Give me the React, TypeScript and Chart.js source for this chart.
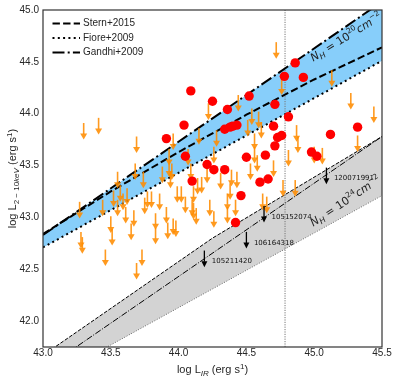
import React, { useEffect, useRef } from 'react';
import { Chart, registerables } from 'chart.js';

Chart.register(...registerables);

// ---------- axes ----------
const X_TICKS = [43.0, 43.5, 44.0, 44.5, 45.0, 45.5];
const Y_TICKS = [42.0, 42.5, 43.0, 43.5, 44.0, 44.5, 45.0];
const X_MIN = 43.0;
const X_MAX = 45.5;
const Y_MIN = 41.75;
const Y_MAX = 45.0;

// ---------- relations (log L_IR -> log L_2-10keV) ----------
const STERN_X = [43.0, 43.5, 44.0, 44.5, 45.0, 45.5];
const STERN_Y = [42.84, 43.25, 43.63, 43.99, 44.33, 44.64];
const FIORE_X = [43.0, 45.5];
const FIORE_Y = [42.71, 44.51];
const GANDHI_X = [43.0, 45.5];
const GANDHI_Y = [42.83, 45.08];

// NH = 1e24 absorbed band
const ABS_UPPER_X = [43.0, 44.25, 45.5];
const ABS_UPPER_Y = [41.67, 42.8, 43.78];
const ABS_MID_X = [43.0, 45.5];
const ABS_MID_Y = [41.53, 43.78];
const ABS_LOWER_X = [43.0, 45.5];
const ABS_LOWER_Y = [41.41, 43.21];

const VLINE_X = 44.785;

// ---------- detections (red) ----------
const DET_X = [44.09, 44.04, 43.91, 44.05, 44.10, 44.86, 44.78, 44.92, 44.25, 44.52, 44.36, 44.71, 44.81, 44.34, 44.38, 44.40, 44.43, 44.70, 44.76, 44.73, 44.71, 45.12, 45.32, 44.21, 44.26, 44.34, 44.50, 44.64, 44.98, 45.02, 44.60, 44.66, 44.46, 44.42];
const DET_Y = [44.22, 43.89, 43.76, 43.59, 43.35, 44.49, 44.36, 44.35, 44.12, 44.17, 44.04, 44.09, 43.97, 43.85, 43.87, 43.88, 43.89, 43.88, 43.79, 43.77, 43.69, 43.80, 43.87, 43.51, 43.46, 43.46, 43.58, 43.60, 43.63, 43.59, 43.34, 43.37, 43.21, 42.95];

// ---------- upper limits (orange) ----------
const UL_X = [
  43.30, 43.41, 43.69, 43.96, 44.15, 43.93, 44.07, 43.55, 43.68, 43.74,
  43.57, 43.62, 43.52, 43.59, 43.88, 43.93, 43.95, 43.94, 44.09, 43.99,
  44.14, 44.17, 44.21, 43.77, 43.80, 43.86, 44.02, 44.11, 43.27, 43.44,
  43.28, 43.29, 43.46, 43.51, 43.55, 43.61, 43.65, 43.67, 43.69, 43.73,
  43.75, 43.83, 43.83, 43.91, 43.92, 43.96, 43.98, 44.05, 44.11, 44.13,
  44.10, 44.23, 44.26, 44.36, 43.50,
  44.72, 45.13, 45.27, 45.44, 44.76, 44.44, 44.22, 44.54, 44.59, 44.28,
  44.51, 44.61, 44.56, 44.87, 44.88, 45.32, 45.00, 44.81, 44.26, 44.56,
  44.58, 44.70, 44.86, 44.31, 44.39, 44.43, 45.06, 44.38, 44.53, 44.62,
  44.65, 44.77, 44.36, 44.42,
];
const UL_Y = [
  43.91, 43.96, 43.78, 43.81, 43.86, 43.66, 43.66, 43.44, 43.52, 43.44,
  43.31, 43.28, 43.26, 43.23, 43.49, 43.55, 43.52, 43.44, 43.52, 43.30,
  43.38, 43.39, 43.49, 43.25, 43.25, 43.23, 43.30, 43.30, 43.15, 43.17,
  42.86, 42.81, 42.69, 42.89, 43.17, 43.10, 42.94, 43.07, 42.56, 42.69,
  43.19, 43.04, 42.90, 43.10, 42.95, 42.99, 42.97, 43.20, 43.14, 43.09,
  43.17, 43.17, 43.06, 43.10, 43.01,
  44.69, 44.42, 44.20, 44.07, 44.34, 44.18, 44.10, 44.05, 44.02, 43.84,
  43.94, 43.92, 43.81, 43.89, 43.78, 43.79, 43.68, 43.65, 43.68, 43.68,
  43.60, 43.55, 43.36, 43.43, 43.46, 43.44, 43.67, 43.33, 43.52, 43.23,
  43.20, 43.36, 43.23, 43.17,
];
const ARROW_LEN = 0.16;

// ---------- highlighted upper limits (black) ----------
const BLACK_IDS = ['120071991', '105152074', '106164318', '105211420'];
const BLACK_X = [45.09, 44.63, 44.5, 44.19];
const BLACK_Y = [43.48, 43.11, 42.86, 42.68];

// ---------- legend & annotations ----------
const LEGEND_LABELS = ['Stern+2015', 'Fiore+2009', 'Gandhi+2009'];
const NH_EXPONENTS = ['20', '24'];
const NH_X = [44.993, 44.993];
const NH_Y = [44.501, 42.91];

// ---------- styles ----------
const DASH_STERN = [7.4, 3.2];
const DASH_FIORE = [2, 3.3];
const DASH_GANDHI = [12, 3.2, 2, 3.2];
const BLUE = '#87CEFA';
const GRAY_FILL = '#D3D3D3';
const ORANGE = 'rgba(255,140,0,0.88)';
const TEXT = '#262626';
const SANS = '"Liberation Sans", Arial, sans-serif';
const DEJAVU = '"DejaVu Sans", sans-serif';

const pts = (xs: number[], ys: number[]) => xs.map((x, i) => ({ x, y: ys[i] }));

type Part = { t: string; size: number; dy?: number; italic?: boolean; family?: string };
const fontOf = (p: Part) => `${p.italic ? 'italic ' : ''}${p.size}px ${p.family || SANS}`;
function richWidth(ctx: CanvasRenderingContext2D, parts: Part[]) {
  let w = 0;
  for (const p of parts) {
    ctx.font = fontOf(p);
    w += ctx.measureText(p.t).width;
  }
  return w;
}
function drawRich(ctx: CanvasRenderingContext2D, parts: Part[], x: number, y: number, align: 'left' | 'center') {
  const w = richWidth(ctx, parts);
  let cx = align === 'center' ? x - w / 2 : x;
  ctx.textAlign = 'left';
  ctx.textBaseline = 'alphabetic';
  for (const p of parts) {
    ctx.font = fontOf(p);
    ctx.fillText(p.t, cx, y + (p.dy || 0));
    cx += ctx.measureText(p.t).width;
  }
}

function drawArrow(ctx: CanvasRenderingContext2D, x: number, yTop: number, yTip: number, color: string, lw: number, headW: number, headL: number) {
  ctx.strokeStyle = color;
  ctx.fillStyle = color;
  ctx.lineWidth = lw;
  ctx.setLineDash([]);
  ctx.beginPath();
  ctx.moveTo(x, yTop);
  ctx.lineTo(x, yTip - headL + 0.5);
  ctx.stroke();
  ctx.beginPath();
  ctx.moveTo(x - headW / 2, yTip - headL);
  ctx.lineTo(x + headW / 2, yTip - headL);
  ctx.lineTo(x, yTip);
  ctx.closePath();
  ctx.fill();
}

const overlayPlugin = {
  id: 'overlay',
  beforeDatasetDraw(chart: any, args: any) {
    const ds = chart.data.datasets[args.index];
    if (ds.label !== 'detections') return;
    const { ctx, chartArea, scales } = chart;
    const xs = scales.x;
    const ys = scales.y;
    ctx.save();
    ctx.beginPath();
    ctx.rect(chartArea.left, chartArea.top, chartArea.right - chartArea.left, chartArea.bottom - chartArea.top);
    ctx.clip();
    for (let i = 0; i < UL_X.length; i++) {
      const px = xs.getPixelForValue(UL_X[i]);
      drawArrow(ctx, px, ys.getPixelForValue(UL_Y[i]), ys.getPixelForValue(UL_Y[i] - ARROW_LEN), ORANGE, 1.6, 7, 6);
    }
    for (let i = 0; i < BLACK_X.length; i++) {
      const px = xs.getPixelForValue(BLACK_X[i]);
      const top = ys.getPixelForValue(BLACK_Y[i]);
      drawArrow(ctx, px, top, ys.getPixelForValue(BLACK_Y[i] - ARROW_LEN), '#000', 1.3, 6, 6);
      ctx.fillStyle = '#111';
      ctx.font = `7px ${DEJAVU}`;
      ctx.textAlign = 'left';
      ctx.textBaseline = 'middle';
      ctx.fillText(BLACK_IDS[i], px + 7.5, top + 11);
    }
    ctx.restore();
  },
  afterDraw(chart: any) {
    const { ctx, chartArea, scales } = chart;
    const { left, right, top, bottom } = chartArea;
    const xs = scales.x;
    const ys = scales.y;
    ctx.save();

    // NH annotations
    ctx.fillStyle = '#222';
    for (let i = 0; i < NH_EXPONENTS.length; i++) {
      const ax = xs.getPixelForValue(NH_X[i]);
      const ay = ys.getPixelForValue(NH_Y[i]);
      ctx.save();
      ctx.translate(ax, ay);
      ctx.rotate(-(i === 0 ? 32 : 33.5) * Math.PI / 180);
      drawRich(ctx, [
        { t: 'N', size: 11, italic: true, family: DEJAVU },
        { t: 'H', size: 8, italic: true, dy: 2.5, family: DEJAVU },
        { t: ' = 10', size: 11, family: DEJAVU },
        { t: NH_EXPONENTS[i], size: 7.5, dy: -5, family: DEJAVU },
        { t: 'cm', size: 11, italic: true, family: DEJAVU },
        { t: '−2', size: 7.5, dy: -5, family: DEJAVU },
      ], 0, 0, 'left');
      ctx.restore();
    }

    // frame
    ctx.strokeStyle = '#333';
    ctx.lineWidth = 1.2;
    ctx.setLineDash([]);
    ctx.strokeRect(left, top, right - left, bottom - top);

    // legend
    const rows = [top + 13.5, top + 28, top + 42.5];
    const dashes = [DASH_STERN, DASH_FIORE, DASH_GANDHI];
    for (let i = 0; i < LEGEND_LABELS.length; i++) {
      ctx.strokeStyle = '#000';
      ctx.lineWidth = 2;
      ctx.setLineDash(dashes[i]);
      ctx.beginPath();
      ctx.moveTo(left + 9.5, rows[i]);
      ctx.lineTo(left + 37, rows[i]);
      ctx.stroke();
      ctx.setLineDash([]);
      ctx.fillStyle = TEXT;
      ctx.font = `10px ${SANS}`;
      ctx.textAlign = 'left';
      ctx.textBaseline = 'middle';
      ctx.fillText(LEGEND_LABELS[i], left + 40, rows[i]);
    }

    // axis titles
    ctx.fillStyle = TEXT;
    drawRich(ctx, [
      { t: 'log L', size: 11 },
      { t: 'IR', size: 8, italic: true, dy: 3 },
      { t: ' (erg s', size: 11 },
      { t: '1', size: 8, dy: -4.5 },
      { t: ')', size: 11 },
    ], (left + right) / 2, bottom + 26, 'center');

    ctx.save();
    ctx.translate(16, (top + bottom) / 2);
    ctx.rotate(-Math.PI / 2);
    drawRich(ctx, [
      { t: 'log L', size: 11 },
      { t: '2 − 10', size: 8, dy: 3 },
      { t: 'keV', size: 8, italic: true, dy: 3 },
      { t: ' (erg s', size: 11 },
      { t: '1', size: 8, dy: -4.5 },
      { t: ')', size: 11 },
    ], 0, 0, 'center');
    ctx.restore();

    ctx.restore();
  },
};

function lineDs(label: string, xs: number[], ys: number[], color: string, width: number, dash: number[], order: number, fill: any = false, bg = 'transparent') {
  return {
    type: 'line' as const,
    label,
    data: pts(xs, ys),
    borderColor: color,
    borderWidth: width,
    borderDash: dash,
    pointRadius: 0,
    pointHitRadius: 0,
    tension: 0,
    fill,
    backgroundColor: bg,
    order,
  };
}

export default function App() {
  const ref = useRef<HTMLCanvasElement>(null);
  useEffect(() => {
    const canvas = ref.current;
    if (!canvas) return;
    const datasets: any[] = [
      {
        type: 'line',
        label: 'detections',
        data: pts(DET_X, DET_Y),
        showLine: false,
        pointRadius: 4.7,
        pointBackgroundColor: '#FF0000',
        pointBorderColor: '#FF0000',
        pointBorderWidth: 0,
        order: 0,
      },
      lineDs('Stern+2015', STERN_X, STERN_Y, '#000', 2, DASH_STERN, 1),
      lineDs('Gandhi+2009', GANDHI_X, GANDHI_Y, '#000', 2, DASH_GANDHI, 2, { target: 3 }, BLUE),
      lineDs('Fiore+2009', FIORE_X, FIORE_Y, '#000', 2, DASH_FIORE, 3),
      lineDs('abs upper', ABS_UPPER_X, ABS_UPPER_Y, '#000', 1, [3.7, 1.6], 4, { target: 6 }, GRAY_FILL),
      lineDs('abs mid', ABS_MID_X, ABS_MID_Y, '#000', 1, [6.4, 1.6, 1, 1.6], 5),
      lineDs('abs lower', ABS_LOWER_X, ABS_LOWER_Y, '#666', 1, [1, 1.65], 6),
      lineDs('vline', [VLINE_X, VLINE_X], [Y_MIN, Y_MAX], '#777', 1, [1.2, 1.2], 7),
    ];
    const chart = new Chart(canvas, {
      type: 'line',
      data: { datasets },
      options: {
        responsive: false,
        animation: false,
        events: [],
        layout: { padding: { top: 10, right: 16, left: 0, bottom: 0 } },
        plugins: {
          legend: { display: false },
          tooltip: { enabled: false },
          title: { display: false },
          filler: { drawTime: 'beforeDatasetsDraw' },
        } as any,
        scales: {
          x: {
            type: 'linear',
            min: X_MIN,
            max: X_MAX,
            grid: { display: false, drawTicks: false },
            border: { display: false },
            ticks: {
              color: TEXT,
              font: { family: SANS, size: 10 },
              padding: 0,
              maxRotation: 0,
              autoSkip: false,
              callback: (v: any) => Number(v).toFixed(1),
            },
            afterBuildTicks: (s: any) => { s.ticks = X_TICKS.map((v) => ({ value: v })); },
            afterFit: (s: any) => { s.height = 34; },
          },
          y: {
            type: 'linear',
            min: Y_MIN,
            max: Y_MAX,
            grid: { display: false, drawTicks: false },
            border: { display: false },
            ticks: {
              color: TEXT,
              font: { family: SANS, size: 10 },
              padding: 4,
              autoSkip: false,
              callback: (v: any) => Number(v).toFixed(1),
            },
            afterBuildTicks: (s: any) => { s.ticks = Y_TICKS.map((v) => ({ value: v })); },
            afterFit: (s: any) => { s.width = 43; },
          },
        },
      } as any,
      plugins: [overlayPlugin],
    });
    return () => chart.destroy();
  }, []);
  return (
    <div style={{ position: 'absolute', left: 0, top: 0, width: 398, height: 381, background: '#fff' }}>
      <canvas ref={ref} width={398} height={381} style={{ display: 'block' }} />
    </div>
  );
}
